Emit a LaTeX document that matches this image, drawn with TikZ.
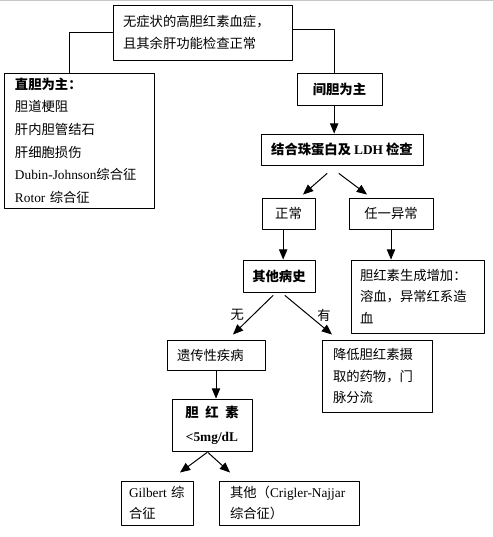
\documentclass[tikz,border=0pt]{standalone}
\usepackage{fontspec}
\setmainfont{Noto Sans CJK SC}
\newfontfamily\latin{Liberation Serif}
\usepackage{tikz}
\usetikzlibrary{arrows}

\begin{document}
\begin{tikzpicture}[line cap=round,line join=round,>=triangle 45,x=0.75pt,y=-0.75pt,scale=1,
  box/.style={draw,line width=0.75pt,inner ysep=0pt,font=\fontsize{10}{16}\selectfont},
  link/.style={line width=0.75pt}]
\clip(0,0) rectangle (493,537);
\draw [color=gray!45,line width=1.5pt] (0,0)-- (493,0);
% boxes
\node[box,minimum width=134.25pt,minimum height=41.25pt,inner xsep=7.5pt,text width=119.25pt,align=left] (top) at (202.5,32.5) {无症状的高胆红素血症，\\且其余肝功能检查正常};
\node[box,minimum width=112.5pt,minimum height=101.25pt,inner xsep=8.25pt,text width=96pt,align=left,font=\fontsize{10}{17}\selectfont] (direct) at (79,140.5) {\textbf{直胆为主：}\\胆道梗阻\\肝内胆管结石\\肝细胞损伤\\{\latin Dubin-Johnson}综合征\\{\latin Rotor} 综合征};
\node[box,minimum width=63.75pt,minimum height=24pt,font=\fontsize{10}{16}\selectfont\bfseries] (indirect) at (339.5,89) {间胆为主};
\node[box,minimum width=121.5pt,minimum height=23.25pt,font=\fontsize{10}{16}\selectfont\bfseries] (check) at (342,149.5) {结合珠蛋白及 {\latin LDH} 检查};
\node[box,minimum width=39.75pt,minimum height=23.25pt] (normal) at (288.5,213.5) {正常};
\node[box,minimum width=63pt,minimum height=23.25pt] (abnormal) at (391,213.5) {任一异常};
\node[box,minimum width=54pt,minimum height=24pt,font=\fontsize{10}{16}\selectfont\bfseries] (history) at (279,276) {其他病史};
\node[box,minimum width=99.75pt,minimum height=54.75pt,inner xsep=6.75pt,text width=86.25pt,align=left] (hemolysis) at (417.5,296.5) {胆红素生成增加：\\溶血，异常红系造\\血};
\node[box,minimum width=73.5pt,minimum height=22.5pt,inner xsep=7.5pt,text width=58.5pt,align=left] (hered) at (216,355) {遗传性疾病};
\node[box,minimum width=82.5pt,minimum height=54pt,inner xsep=8.25pt,text width=66pt,align=left] (drugs) at (377,376) {降低胆红素摄\\取的药物，门\\脉分流};
\node[box,minimum width=60pt,minimum height=39pt,align=center,font=\fontsize{10}{18}\selectfont\bfseries] (bili) at (212,425) {胆\hspace{5pt}红\hspace{5pt}素\\{\latin\bfseries <5mg/dL}};
\node[box,minimum width=54pt,minimum height=33pt,inner xsep=6pt,text width=42pt,align=left] (gilbert) at (157,503) {{\latin Gilbert} 综\\合征};
\node[box,minimum width=105pt,minimum height=33pt,inner xsep=8.25pt,text width=88.5pt,align=left] (other) at (289,503) {其他（{\latin Crigler-Najjar}\\综合征）};
% connectors
\draw [link] (top.west) -| ([xshift=-7.5pt]direct.north);
\draw [link] ([yshift=2.5pt]top.east) -| ([xshift=-4pt]indirect.north);
\draw [link,->] ([xshift=-4pt]indirect.south) -- ([xshift=-4pt]indirect.south |- check.north);
\draw [link,->] ([xshift=-11.25pt,yshift=-6pt]check.south) -- ([xshift=10.9pt,yshift=2.25pt]normal.north);
\draw [link,->] ([xshift=-2.25pt,yshift=-6pt]check.south) -- ([xshift=-18pt,yshift=2.25pt]abnormal.north);
\draw [link,->] ([xshift=-4pt]normal.south) -- ([xshift=-4pt]normal.south |- history.north);
\draw [link,->] (abnormal.south) -- (abnormal.south |- hemolysis.north);
\draw [link,->] ([xshift=-4.5pt,yshift=-2.25pt]history.south) -- node[left=3pt,font=\fontsize{10}{12}\selectfont] {无} ([xshift=12.75pt,yshift=3.75pt]hered.north);
\draw [link,->] ([xshift=4.5pt,yshift=-2.25pt]history.south) -- node[right=3pt,font=\fontsize{10}{12}\selectfont] {有} ([xshift=-33.75pt,yshift=3.75pt]drugs.north);
\draw [link,->] (hered.south) -- (hered.south |- bili.north);
\draw [link,->] ([xshift=-3.75pt,yshift=-0.75pt]bili.south) -- ([xshift=17.25pt,yshift=6pt]gilbert.north);
\draw [link,->] ([xshift=-3pt,yshift=-0.75pt]bili.south) -- ([xshift=-44.25pt,yshift=6pt]other.north);
\end{tikzpicture}
\end{document}
